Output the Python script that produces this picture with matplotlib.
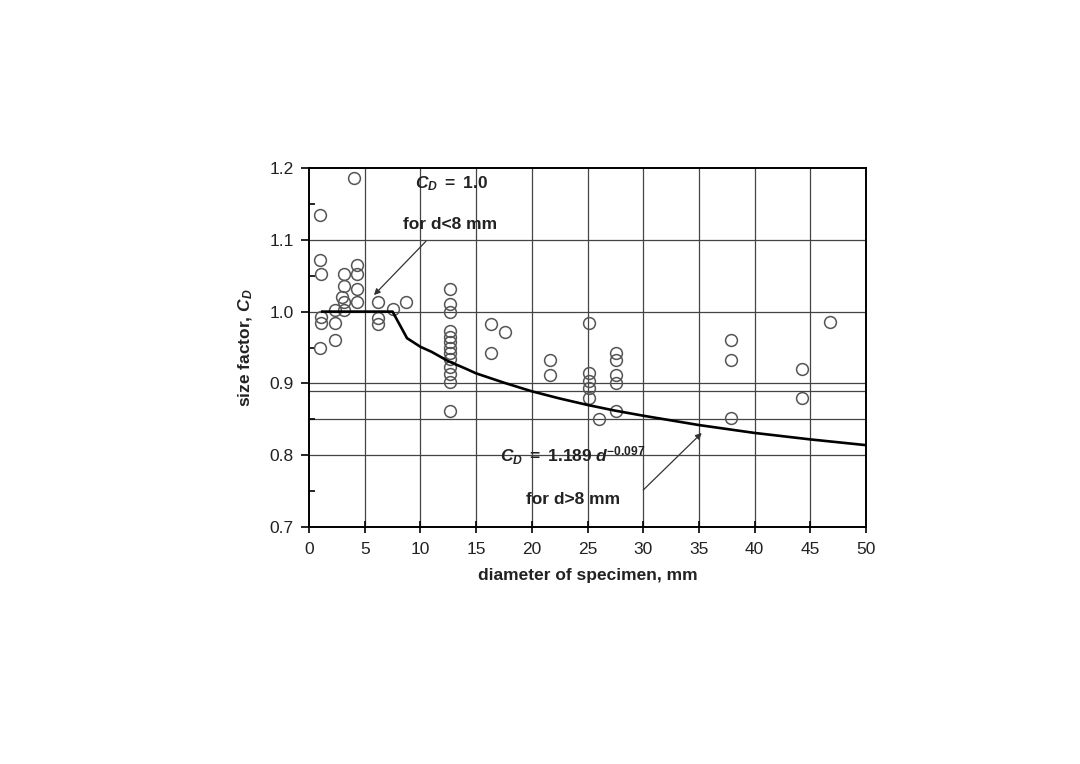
import matplotlib
matplotlib.use("Agg")
import matplotlib.pyplot as plt

plt.rcParams['font.family'] = ['Liberation Sans', 'DejaVu Sans']
plt.rcParams['mathtext.fontset'] = 'custom'
plt.rcParams['mathtext.rm'] = 'Liberation Sans'
plt.rcParams['mathtext.it'] = 'Liberation Sans:italic'
plt.rcParams['mathtext.bf'] = 'Liberation Sans:bold'
plt.rcParams['mathtext.bfit'] = 'Liberation Sans:bold:italic'

# measured data (diameter mm, size factor)
diam = [1.0, 1.0, 1.1, 1.05, 1.05, 1.0,
        2.3, 2.3, 2.3,
        3.1, 3.1, 3.0, 3.1, 3.1,
        4.05,
        4.35, 4.35, 4.35, 4.35,
        6.2, 6.2, 6.2,
        7.5, 8.7,
        12.7, 12.7, 12.7, 12.7, 12.7, 12.7, 12.7, 12.7, 12.7, 12.7, 12.7, 12.7, 12.7,
        16.3, 16.3, 17.6,
        21.6, 21.6,
        25.1, 25.1, 25.1, 25.1, 25.1, 26.0,
        27.6, 27.6, 27.6, 27.6, 27.6,
        37.85, 37.85, 37.85,
        44.25, 44.25,
        46.8]
cd = [1.135, 1.072, 1.053, 0.992, 0.984, 0.950,
      1.002, 0.984, 0.961,
      1.052, 1.035, 1.021, 1.014, 1.002,
      1.186,
      1.065, 1.052, 1.031, 1.014,
      1.014, 0.991, 0.983,
      1.003, 1.014,
      1.031, 1.011, 1.000, 0.973, 0.965, 0.958, 0.949, 0.942, 0.934, 0.923, 0.913, 0.902, 0.862,
      0.983, 0.942, 0.972,
      0.932, 0.912,
      0.984, 0.914, 0.904, 0.893, 0.880, 0.850,
      0.943, 0.932, 0.912, 0.901, 0.862,
      0.960, 0.932, 0.852,
      0.920, 0.880,
      0.985]

# design curve
curve_d = [1.2, 7.5, 8.8, 10, 11, 12.5, 14, 15, 17.5, 20, 22.5, 25, 27.5, 30, 35, 40, 45, 50]
curve_cd = [1.0, 1.0, 0.963, 0.951, 0.944, 0.931, 0.921, 0.914, 0.901, 0.889,
            0.879, 0.870, 0.862, 0.855, 0.842, 0.831, 0.822, 0.814]

x_ticks = [0, 5, 10, 15, 20, 25, 30, 35, 40, 45, 50]
y_ticks = [0.7, 0.8, 0.9, 1.0, 1.1, 1.2]
y_minor = [0.75, 0.85, 0.95, 1.05, 1.15]
extra_lines = [0.889, 0.85]

fig = plt.figure(figsize=(10.8, 7.64), dpi=100)
ax = fig.add_axes([0.2861, 0.3102, 0.5158, 0.4699])

grid_col = '#444444'
for xv in x_ticks[1:-1]:
    ax.axvline(xv, color=grid_col, lw=0.9, zorder=1)
for yv in y_ticks[1:-1]:
    ax.axhline(yv, color=grid_col, lw=0.9, zorder=1)
for yv in extra_lines:
    ax.axhline(yv, color=grid_col, lw=0.9, zorder=1)

ax.plot(diam, cd, linestyle='none', marker='o', ms=8.5, mfc='none',
        mec='#555555', mew=1.1, zorder=3)
ax.plot(curve_d, curve_cd, color='black', lw=1.9, zorder=4)

ax.set_xlim(0, 50)
ax.set_ylim(0.7, 1.2)
ax.set_xticks(x_ticks)
ax.set_xticklabels([str(v) for v in x_ticks])
ax.set_yticks(y_ticks)
ax.set_yticklabels([f"{v:.1f}" for v in y_ticks])
ax.set_yticks(y_minor, minor=True)
ax.tick_params(axis='x', which='major', direction='inout', length=9, width=1.2,
               labelsize=12.5, colors='black', labelcolor='#222222', pad=6)
ax.tick_params(axis='y', which='major', direction='out', length=6, width=1.2,
               labelsize=12.5, labelcolor='#222222', pad=5)
ax.tick_params(axis='y', which='minor', direction='in', length=4, width=1.2)
for s in ax.spines.values():
    s.set_linewidth(1.4)
    s.set_color('black')

ax.set_xlabel('diameter of specimen, mm', fontsize=12.5, fontweight='bold',
              color='#222222', labelpad=8)
ax.set_ylabel(r'size factor, $\mathbfit{C}_{\mathbfit{D}}$', fontsize=12.5,
              fontweight='bold', color='#222222', labelpad=10)

ax.text(12.75, 1.178, r'$\mathbfit{C}_{\mathbfit{D}}\mathbf{\ =\ 1.0}$',
        fontsize=12.5, ha='center', va='center', color='#222222', zorder=5)
ax.text(12.66, 1.121, 'for d<8 mm', fontsize=12.5, fontweight='bold',
        ha='center', va='center', color='#222222', zorder=5)
ax.annotate('', xy=(5.83, 1.023), xytext=(10.5, 1.098),
            arrowprops=dict(arrowstyle='-|>', color='#333333', lw=0.9,
                            mutation_scale=9, shrinkA=0, shrinkB=0), zorder=5)

ax.text(17.15, 0.80, r'$\mathbfit{C}_{\mathbfit{D}}\mathbf{\ =\ 1.189\ }\mathbfit{d}^{\mathbf{-0.097}}$',
        fontsize=12.5, ha='left', va='center', color='#222222', zorder=5)
ax.text(23.7, 0.738, 'for d>8 mm', fontsize=12.5, fontweight='bold',
        ha='center', va='center', color='#222222', zorder=5)
ax.annotate('', xy=(35.25, 0.831), xytext=(30.0, 0.7515),
            arrowprops=dict(arrowstyle='-|>', color='#333333', lw=0.9,
                            mutation_scale=9, shrinkA=0, shrinkB=0), zorder=5)

fig.savefig('out.png', dpi=100, facecolor='white')
